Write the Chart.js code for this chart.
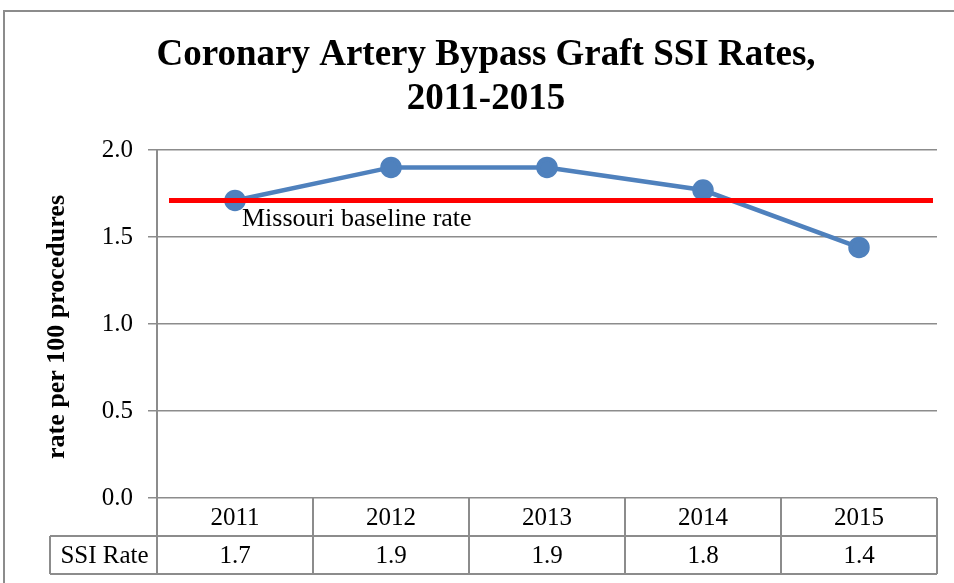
<!DOCTYPE html>
<html><head><meta charset="utf-8">
<script src="https://cdn.jsdelivr.net/npm/chart.js@4"></script>
<style>html,body{margin:0;padding:0;background:#fff}#wrap{width:954px;height:583px;position:relative}</style>
</head><body><div id="wrap"><canvas id="c" width="954" height="583"></canvas></div>
<script>
const titleLines = ["Coronary Artery Bypass Graft SSI Rates,", "2011-2015"];
const years = ["2011", "2012", "2013", "2014", "2015"];
const ssiRates = [1.71, 1.90, 1.90, 1.77, 1.44];
const tableRowLabel = "SSI Rate";
const tableValues = ["1.7", "1.9", "1.9", "1.8", "1.4"];
const baselineRate = 1.71;
const baselineLabel = "Missouri baseline rate";
const yAxisTitle = "rate per 100 procedures";
const yTicks = [0, 0.5, 1.0, 1.5, 2.0];

const SERIF = '"Liberation Serif", "Times New Roman", serif';

const overlay = {
  id: 'overlay',
  beforeDraw(chart) {
    const ctx = chart.ctx;
    ctx.save();
    ctx.fillStyle = '#fff';
    ctx.fillRect(0, 0, chart.width, chart.height);
    ctx.strokeStyle = '#8c8c8c';
    ctx.lineWidth = 2;
    ctx.strokeRect(4, 11, 1000, 1000);
    // title
    ctx.fillStyle = '#000';
    ctx.font = 'bold 37px ' + SERIF;
    ctx.textAlign = 'center';
    ctx.textBaseline = 'alphabetic';
    ctx.fillText(titleLines[0], 486, 65);
    ctx.fillText(titleLines[1], 486, 109);
    ctx.restore();
  },
  afterDatasetsDraw(chart) {
    const ctx = chart.ctx;
    const x = chart.scales.x, y = chart.scales.y;
    const ca = chart.chartArea;
    ctx.save();
    // baseline
    const yb = y.getPixelForValue(baselineRate);
    ctx.strokeStyle = '#ff0000';
    ctx.lineWidth = 5;
    ctx.beginPath();
    ctx.moveTo(ca.left + 12, yb);
    ctx.lineTo(ca.right - 4, yb);
    ctx.stroke();
    ctx.fillStyle = '#000';
    ctx.font = '26px ' + SERIF;
    ctx.textAlign = 'left';
    ctx.textBaseline = 'middle';
    ctx.fillText(baselineLabel, ca.left + 85, yb + 19);

    // y axis title
    ctx.save();
    ctx.translate(57, 327);
    ctx.rotate(-Math.PI / 2);
    ctx.font = 'bold 26px ' + SERIF;
    ctx.textAlign = 'center';
    ctx.textBaseline = 'middle';
    ctx.fillText(yAxisTitle, 0, 0);
    ctx.restore();

    // data table
    const top = ca.bottom, mid = ca.bottom + 38, bot = ca.bottom + 76;
    const labelLeft = 50;
    const colW = (ca.right - ca.left) / years.length;
    ctx.strokeStyle = '#8c8c8c';
    ctx.lineWidth = 2;
    ctx.beginPath();
    ctx.moveTo(labelLeft, mid); ctx.lineTo(ca.right, mid);
    ctx.moveTo(labelLeft, bot); ctx.lineTo(ca.right, bot);
    ctx.moveTo(labelLeft, mid); ctx.lineTo(labelLeft, bot);
    for (let i = 0; i <= years.length; i++) {
      const xx = ca.left + i * colW;
      ctx.moveTo(xx, top); ctx.lineTo(xx, bot);
    }
    ctx.stroke();
    ctx.fillStyle = '#000';
    ctx.font = '25px ' + SERIF;
    ctx.textAlign = 'center';
    ctx.textBaseline = 'middle';
    years.forEach((yr, i) => {
      const cx = x.getPixelForValue(i);
      ctx.fillText(yr, cx, (top + mid) / 2 + 1);
      ctx.fillText(tableValues[i], cx, (mid + bot) / 2 + 1);
    });
    ctx.fillText(tableRowLabel, (labelLeft + ca.left) / 2 + 1, (mid + bot) / 2 + 1);
    ctx.restore();
  }
};

new Chart(document.getElementById('c'), {
  type: 'line',
  data: {
    labels: years,
    datasets: [{
      data: ssiRates,
      borderColor: '#4f81bd',
      backgroundColor: '#4f81bd',
      borderWidth: 4.5,
      pointRadius: 8.5,
      pointHoverRadius: 8.5,
      pointBackgroundColor: '#4f81bd',
      pointBorderColor: '#4f81bd',
      tension: 0
    }]
  },
  options: {
    responsive: false,
    animation: false,
    events: [],
    layout: { padding: { left: 0, right: 17, top: 150, bottom: 0 } },
    plugins: {
      legend: { display: false },
      tooltip: { enabled: false },
      title: { display: false }
    },
    scales: {
      x: {
        type: 'category',
        offset: true,
        grid: { display: false },
        border: { display: false },
        ticks: { display: false },
        afterFit(s) { s.height = 85; }
      },
      y: {
        min: 0, max: 2,
        afterBuildTicks(s) { s.ticks = yTicks.map(v => ({ value: v })); },
        grid: { color: '#8c8c8c', lineWidth: 1.5, tickLength: 9, drawTicks: true },
        border: { display: true, color: '#8c8c8c', width: 2 },
        ticks: {
          color: '#000',
          padding: 15,
          font: { family: SERIF, size: 25 },
          callback: v => Number(v).toFixed(1)
        },
        afterFit(s) { s.width = 157; }
      }
    }
  },
  plugins: [overlay]
});
</script></body></html>
